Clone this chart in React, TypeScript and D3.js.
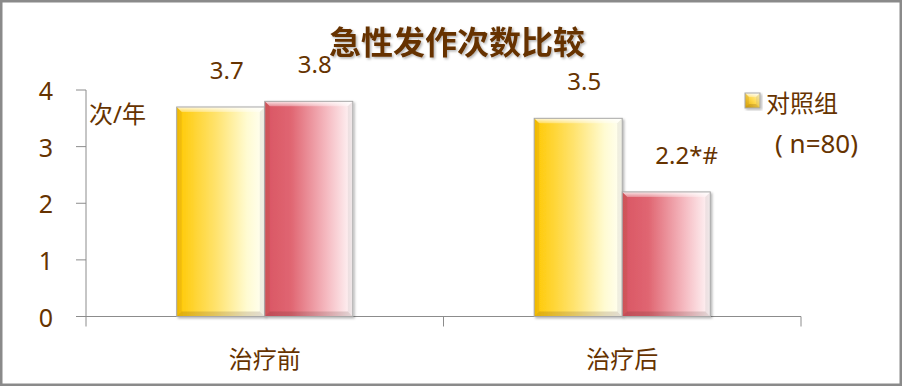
import React, { useEffect } from "react";
import * as d3 from "d3";

// Chart data
const categories = ["治疗前", "治疗后"];
const seriesKeys = ["对照组", "观察组"];
const controlValues = [3.7, 3.5];
const observeValues = [3.8, 2.2];
const valueLabels = [
  ["3.7", "3.8"],
  ["3.5", "2.2*#"],
];
const yTicks = [0, 1, 2, 3, 4];
const titleText = "急性发作次数比较";
const unitText = "次/年";
const legendName = "对照组";
const legendNote = "( n=80)";

const W = 902;
const H = 386;
const TEXT = "#663300";
const AXIS = "#8c8c8c";
const FONT = "'Noto Sans', 'Noto Sans CJK SC', sans-serif";

const gradIds = ["gYellow", "gRed"];

type BarProps = { x: number; y: number; w: number; h: number; grad: string; bevel?: number };

function BevelBar({ x, y, w, h, grad, bevel = 5 }: BarProps) {
  const b = Math.min(bevel, w / 3, h / 3);
  const x2 = x + w;
  const y2 = y + h;
  return (
    <g filter="url(#barShadow)">
      <rect x={x} y={y} width={w} height={h} fill={`url(#${grad})`} />
      {/* top highlight */}
      <polygon
        points={`${x},${y} ${x2},${y} ${x2 - b},${y + b} ${x + b},${y + b}`}
        fill="url(#gTopHi)"
      />
      {/* left edge shade */}
      <polygon
        points={`${x},${y} ${x + b},${y + b} ${x + b},${y2 - b} ${x},${y2}`}
        fill="rgba(120,60,0,0.10)"
      />
      {/* bottom shade */}
      <polygon
        points={`${x},${y2} ${x + b},${y2 - b} ${x2 - b},${y2 - b} ${x2},${y2}`}
        fill="rgba(60,30,20,0.15)"
      />
      {/* right edge */}
      <polygon
        points={`${x2},${y} ${x2},${y2} ${x2 - b},${y2 - b} ${x2 - b},${y + b}`}
        fill="rgba(120,120,120,0.12)"
      />
      <rect x={x} y={y} width={w} height={h} fill="none" stroke="#a8a8a8" strokeWidth={1} />
    </g>
  );
}

export default function App() {
  useEffect(() => {
    document.body.style.margin = "0";
  }, []);

  const plotLeft = 86;
  const plotRight = 801;
  const y0 = 316.5;
  const yTop = 90;

  const x0 = d3.scaleBand<string>().domain(categories).range([plotLeft, plotRight]).padding(0);
  const x1 = d3
    .scaleBand<string>()
    .domain(seriesKeys)
    .range([0, x0.bandwidth()])
    .paddingInner(0)
    .paddingOuter(1.03);
  const y = d3.scaleLinear().domain([0, 4]).range([y0, yTop]);

  const seriesValues = [controlValues, observeValues];
  const bw = x1.bandwidth();

  return (
    <svg
      width={W}
      height={H}
      style={{ position: "absolute", left: 0, top: 0, display: "block" }}
      fontFamily={FONT}
    >
      <defs>
        <linearGradient id="gYellow" x1="0" x2="1" y1="0" y2="0">
          <stop offset="0" stopColor="#ffc800" />
          <stop offset="0.45" stopColor="#ffe36e" />
          <stop offset="0.8" stopColor="#fffbd2" />
          <stop offset="1" stopColor="#fffff5" />
        </linearGradient>
        <linearGradient id="gRed" x1="0" x2="1" y1="0" y2="0">
          <stop offset="0" stopColor="#d95563" />
          <stop offset="0.3" stopColor="#e06672" />
          <stop offset="0.7" stopColor="#f5b9c0" />
          <stop offset="1" stopColor="#fff8f9" />
        </linearGradient>
        <linearGradient id="gLegend" x1="0" x2="1" y1="1" y2="0">
          <stop offset="0" stopColor="#e0a800" />
          <stop offset="0.5" stopColor="#ffd84a" />
          <stop offset="1" stopColor="#fff6c8" />
        </linearGradient>
        <linearGradient id="gTopHi" x1="0" x2="0" y1="0" y2="1">
          <stop offset="0" stopColor="#ffffff" stopOpacity="0.85" />
          <stop offset="1" stopColor="#ffffff" stopOpacity="0.3" />
        </linearGradient>
        <filter id="barShadow" x="-10%" y="-10%" width="125%" height="125%">
          <feDropShadow dx="1.5" dy="1.5" stdDeviation="1.2" floodColor="#000" floodOpacity="0.28" />
        </filter>
        <filter id="titleShadow" x="-5%" y="-20%" width="110%" height="150%">
          <feDropShadow dx="1.5" dy="1.5" stdDeviation="0.8" floodColor="#000" floodOpacity="0.3" />
        </filter>
      </defs>

      <rect x={0} y={0} width={W} height={H} fill="#ffffff" />

      {/* title */}
      <text
        x={457}
        y={54}
        textAnchor="middle"
        fontSize={32}
        fontWeight="bold"
        fill={TEXT}
        fontFamily="'Noto Sans CJK SC', sans-serif"
        filter="url(#titleShadow)"
      >
        {titleText}
      </text>

      {/* y axis */}
      <line x1={plotLeft} x2={plotLeft} y1={yTop} y2={y0} stroke={AXIS} strokeWidth={1} />
      {yTicks.map((t) => (
        <g key={t}>
          <line x1={plotLeft - 10} x2={plotLeft} y1={y(t)} y2={y(t)} stroke={AXIS} strokeWidth={1} />
          <text
            x={53}
            y={y(t)}
            textAnchor="end"
            dominantBaseline="central"
            fontSize={25}
            fill={TEXT}
          >
            {t}
          </text>
        </g>
      ))}
      <text x={89} y={113} dominantBaseline="central" fontSize={24} fill={TEXT}>
        {unitText}
      </text>

      {/* x axis */}
      <line x1={plotLeft} x2={plotRight} y1={y0} y2={y0} stroke={AXIS} strokeWidth={1} />
      {[...categories.map((c) => x0(c) as number), plotRight].map((tx, i) => (
        <line key={i} x1={tx} x2={tx} y1={y0} y2={y0 + 10} stroke={AXIS} strokeWidth={1} />
      ))}
      {categories.map((c) => (
        <text
          key={c}
          x={(x0(c) as number) + x0.bandwidth() / 2}
          y={357}
          textAnchor="middle"
          dominantBaseline="central"
          fontSize={24}
          fill={TEXT}
          fontFamily="'Noto Sans CJK SC', sans-serif"
        >
          {c}
        </text>
      ))}

      {/* bars */}
      {categories.map((c, ci) =>
        seriesKeys.map((s, si) => {
          const v = seriesValues[si][ci];
          const bx = (x0(c) as number) + (x1(s) as number);
          const by = y(v);
          return (
            <g key={`${c}-${s}`}>
              <BevelBar x={bx} y={by} w={bw} h={y0 - by} grad={gradIds[si]} />
              <text x={bx + bw / 2 - 11} y={by - 28} fontSize={24} fill={TEXT}>
                {valueLabels[ci][si]}
              </text>
            </g>
          );
        })
      )}

      {/* legend */}
      <BevelBar x={745} y={93} w={15} h={15} grad="gLegend" bevel={4} />
      <text
        x={766}
        y={101}
        dominantBaseline="central"
        fontSize={24}
        fill={TEXT}
        fontFamily="'Noto Sans CJK SC', sans-serif"
      >
        {legendName}
      </text>
      <text x={775} y={143} dominantBaseline="central" fontSize={26} fill={TEXT}>
        {legendNote}
      </text>

      {/* outer frame */}
      <rect x={1.25} y={1.25} width={W - 2.5} height={H - 2.5} fill="none" stroke="#8a8a8a" strokeWidth={2.5} />
    </svg>
  );
}
